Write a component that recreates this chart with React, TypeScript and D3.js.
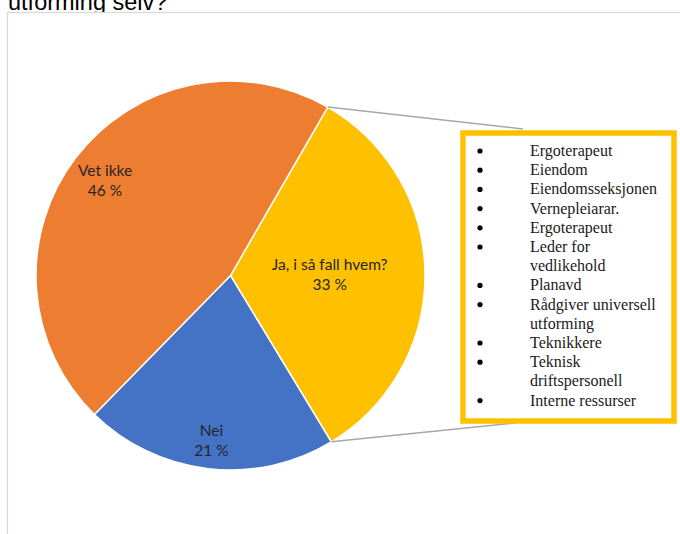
import React from "react";
import * as d3 from "d3";

const categories = ["Ja, i så fall hvem?", "Nei", "Vet ikke"];
const values = [33, 21, 46];
const valueLabels = ["33 %", "21 %", "46 %"];
const sliceColors = ["#FFC000", "#4472C4", "#ED7D31"];
const labelRadius = [0.51, 0.853, 0.81];
const calloutItems: string[][] = [
  ["Ergoterapeut"],
  ["Eiendom"],
  ["Eiendomsseksjonen"],
  ["Vernepleiarar."],
  ["Ergoterapeut"],
  ["Leder for", "vedlikehold"],
  ["Planavd"],
  ["Rådgiver universell", "utforming"],
  ["Teknikkere"],
  ["Teknisk", "driftspersonell"],
  ["Interne ressurser"],
];
const titleText = "utforming selv?";

export default function App() {
  const W = 680, H = 534;
  const cx = 230.5, cy = 275.5, r = 194.5;
  const start = (30 * Math.PI) / 180;
  const pie = d3.pie<number>().sort(null).startAngle(start).endAngle(start + 2 * Math.PI);
  const arcs = pie(values);
  const arc = d3.arc<d3.PieArcDatum<number>>().innerRadius(0).outerRadius(r);

  const yellow = arcs[0];
  const p1: [number, number] = [cx + Math.sin(yellow.startAngle) * r, cy - Math.cos(yellow.startAngle) * r];
  const p2: [number, number] = [cx + Math.sin(yellow.endAngle) * r, cy - Math.cos(yellow.endAngle) * r];

  const box = { x: 463, y: 133, w: 211, h: 288 };
  const lineH = 19.2;
  const firstBase = 156;
  const lines: { text: string; bullet: boolean }[] = [];
  calloutItems.forEach((it) => it.forEach((t, i) => lines.push({ text: t, bullet: i === 0 })));
  const yScale = d3.scaleLinear().domain([0, 1]).range([firstBase, firstBase + lineH]);

  return (
    <svg width={W} height={H} style={{ position: "absolute", left: 0, top: 0 }}>
      <rect x={0} y={0} width={W} height={H} fill="#fff" />
      <text x={8} y={10} fontFamily="'Liberation Sans', Arial, sans-serif" fontSize={23.5} fill="#000">
        {titleText}
      </text>
      <rect x={7.5} y={12.5} width={720} height={600} fill="#fff" stroke="#D9D9D9" strokeWidth={1.2} />
      <g transform={`translate(${cx},${cy})`}>
        {arcs.map((a, i) => (
          <path key={i} d={arc(a) || ""} fill={sliceColors[i]} stroke="#fff" strokeWidth={1.5} />
        ))}
        {arcs.map((a, i) => {
          const mid = (a.startAngle + a.endAngle) / 2;
          const lx = Math.sin(mid) * r * labelRadius[i];
          const ly = -Math.cos(mid) * r * labelRadius[i];
          return (
            <g key={"l" + i} fontFamily="Lato, 'Open Sans', sans-serif" fontSize={15.5} fill="#262626" textAnchor="middle">
              <text x={lx} y={ly - 4.5}>{categories[i]}</text>
              <text x={lx} y={ly + 15.5}>{valueLabels[i]}</text>
            </g>
          );
        })}
      </g>
      <line x1={p1[0]} y1={p1[1]} x2={523} y2={129} stroke="#A6A6A6" strokeWidth={1.5} />
      <line x1={p2[0]} y1={p2[1]} x2={515} y2={423} stroke="#A6A6A6" strokeWidth={1.5} />
      <rect x={box.x} y={box.y} width={box.w} height={box.h} fill="#fff" stroke="#FFC000" strokeWidth={5.5} />
      <g fontFamily="'Liberation Serif', 'Times New Roman', serif" fontSize={16} fill="#1a1a1a">
        {lines.map((l, i) => (
          <g key={i}>
            {l.bullet && <circle cx={480} cy={yScale(i) - 5} r={2.6} fill="#000" />}
            <text x={530} y={yScale(i)}>{l.text}</text>
          </g>
        ))}
      </g>
    </svg>
  );
}
